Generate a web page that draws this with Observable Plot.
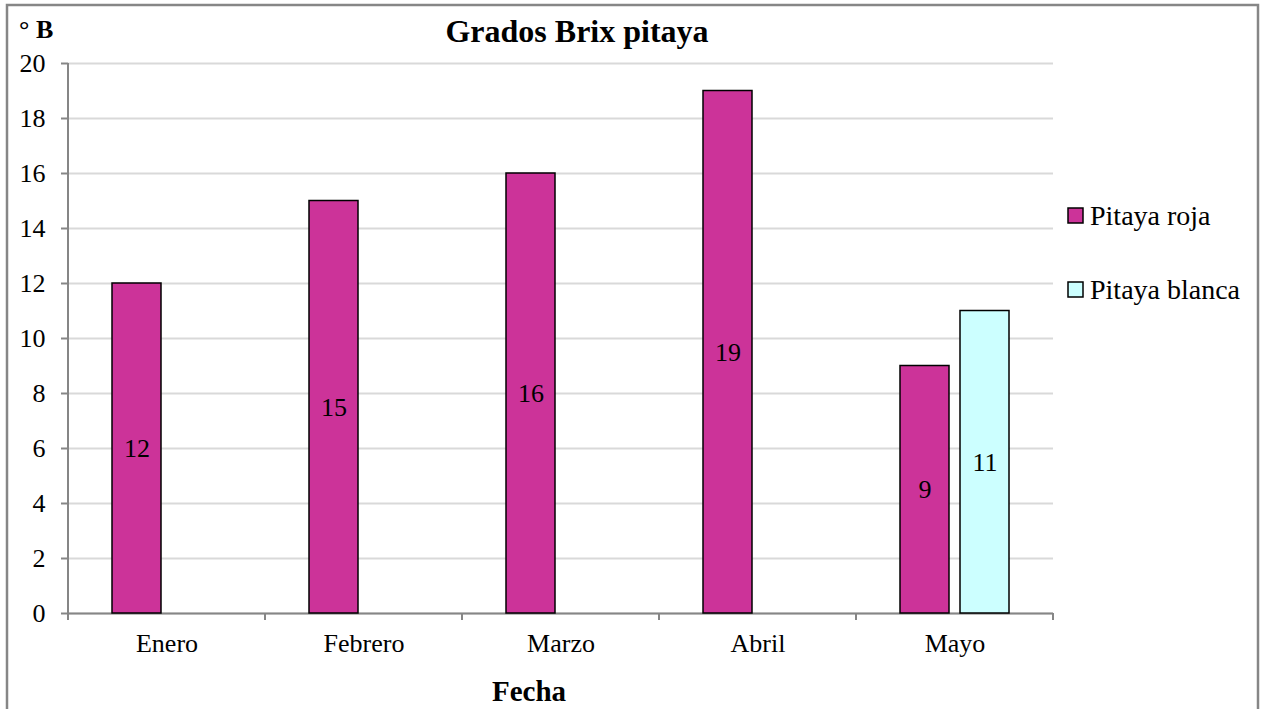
<!DOCTYPE html>
<html>
<head>
<meta charset="utf-8">
<script src="https://cdn.jsdelivr.net/npm/d3@7"></script>
<script src="https://cdn.jsdelivr.net/npm/@observablehq/plot@0.6"></script>
<style>
  html, body { margin: 0; padding: 0; background: #fff; }
  #chart { width: 1262px; height: 709px; }
</style>
</head>
<body>
<div id="chart"></div>
<script>
// Brix degrees of pitaya samples per month
const months = ["Enero", "Febrero", "Marzo", "Abril", "Mayo"];
const series = ["Pitaya roja", "Pitaya blanca"];
const roja = [12, 15, 16, 19, 9];
const blanca = [null, null, null, null, 11];
const yTicks = [0, 2, 4, 6, 8, 10, 12, 14, 16, 18, 20];
const colors = ["#CC3399", "#CCFFFF"];

const rows = [];
months.forEach((m, i) => {
  if (roja[i] != null) rows.push({month: m, series: series[0], value: roja[i]});
  if (blanca[i] != null) rows.push({month: m, series: series[1], value: blanca[i]});
});

const axisGray = "#868686";
const font = "'Liberation Serif', 'Times New Roman', serif";

const plot = Plot.plot({
  width: 1262,
  height: 709,
  marginLeft: 66,
  marginRight: 207,
  marginTop: 63,
  marginBottom: 96,
  style: {fontFamily: font, fontSize: "26px", color: "black", background: "white", overflow: "visible"},
  fx: {domain: months, padding: 0, label: null},
  x: {domain: series, paddingInner: 0.18, paddingOuter: 0.71, axis: null},
  y: {domain: [0, 20], label: null},
  color: {domain: series, range: colors},
  marks: [
    Plot.gridY(yTicks, {stroke: "#d9d9d9", strokeOpacity: 1, strokeWidth: 2}),
    Plot.ruleY([0], {stroke: axisGray, strokeWidth: 2}),
    Plot.barY(rows, {fx: "month", x: "series", y: "value", fill: "series", stroke: "black", strokeWidth: 1.5}),
    Plot.text(rows, {fx: "month", x: "series", y: d => d.value / 2, text: "value", fontSize: 26, fill: "black"}),
    Plot.axisY({ticks: yTicks, tickSize: 7, tickPadding: 16, stroke: axisGray, strokeWidth: 2, fill: "black", fontSize: 26, label: null}),
    Plot.axisFx({anchor: "bottom", tickSize: 0, tickPadding: 20, fontSize: 26, fill: "black", label: null})
  ]
});

document.getElementById("chart").appendChild(plot);

// decorations built from the plot's own scales
const svg = d3.select(plot);
const fx = plot.scale("fx");
const y = plot.scale("y");
const color = plot.scale("color");
const y0 = y.apply(0), yTop = y.apply(20);
const left = fx.apply(months[0]);
const right = fx.apply(months[months.length - 1]) + fx.bandwidth;

// left axis line
svg.append("line")
  .attr("x1", left).attr("x2", left).attr("y1", yTop).attr("y2", y0)
  .attr("stroke", axisGray).attr("stroke-width", 2);

// category boundary ticks on the x axis
const bounds = months.map(m => fx.apply(m)).concat([right]);
svg.append("g").selectAll("line").data(bounds).join("line")
  .attr("x1", d => d).attr("x2", d => d)
  .attr("y1", y0).attr("y2", y0 + 7)
  .attr("stroke", axisGray).attr("stroke-width", 2);

// chart titles
svg.append("text")
  .attr("x", 577).attr("y", 42)
  .attr("text-anchor", "middle")
  .attr("font-family", font).attr("font-weight", "bold").attr("font-size", 32)
  .attr("fill", "black")
  .text("Grados Brix pitaya");

svg.append("text")
  .attr("x", 19).attr("y", 38)
  .attr("text-anchor", "start")
  .attr("font-family", font).attr("font-weight", "bold").attr("font-size", 26)
  .attr("fill", "black")
  .text("° B");

svg.append("text")
  .attr("x", 529).attr("y", 701)
  .attr("text-anchor", "middle")
  .attr("font-family", font).attr("font-weight", "bold").attr("font-size", 29)
  .attr("fill", "black")
  .text("Fecha");

// legend
const legend = svg.append("g").attr("transform", "translate(1068, 208)");
series.forEach((s, i) => {
  const g = legend.append("g").attr("transform", `translate(0, ${i * 74})`);
  g.append("rect")
    .attr("width", 15).attr("height", 15)
    .attr("fill", color.apply(s)).attr("stroke", "black").attr("stroke-width", 1.5);
  g.append("text")
    .attr("x", 22).attr("y", 17)
    .attr("text-anchor", "start")
    .attr("font-family", font).attr("font-size", 28).attr("fill", "black")
    .text(s);
});

// chart border
svg.append("rect")
  .attr("x", 7).attr("y", 5).attr("width", 1251).attr("height", 730)
  .attr("fill", "none").attr("stroke", axisGray).attr("stroke-width", 2.5);
</script>
</body>
</html>
